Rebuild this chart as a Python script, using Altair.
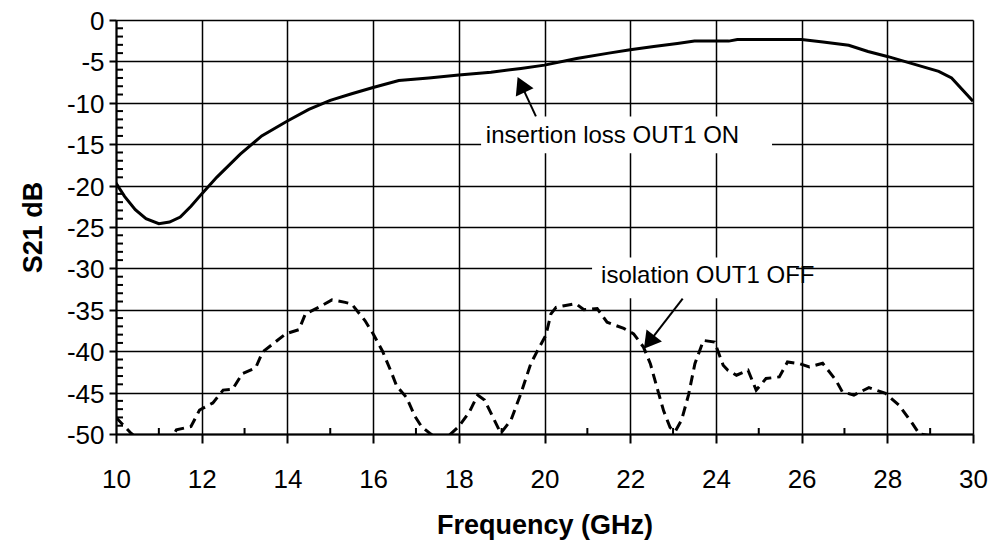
import altair as alt
import pandas as pd

FONT = "Liberation Sans"

# insertion loss OUT1 ON (solid)
freq_il = [10.0, 10.2, 10.45, 10.7, 11.0, 11.25, 11.5, 11.75, 12.0, 12.35, 12.9, 13.4, 14.0,
           14.5, 15.0, 15.5, 16.0, 16.6, 17.3, 18.0, 18.75, 19.45, 20.0, 20.75, 21.5, 22.0,
           22.55, 23.1, 23.5, 24.0, 24.3, 24.5, 25.0, 25.5, 26.0, 26.5, 27.1, 27.55, 28.0,
           28.5, 29.2, 29.5, 30.0]
s21_il = [-19.7, -21.3, -22.9, -24.0, -24.6, -24.4, -23.8, -22.5, -21.0, -19.0, -16.2, -14.0, -12.2,
          -10.8, -9.7, -8.9, -8.15, -7.3, -7.0, -6.65, -6.3, -5.85, -5.45, -4.65, -4.0, -3.6,
          -3.2, -2.85, -2.55, -2.55, -2.55, -2.35, -2.35, -2.35, -2.35, -2.65, -3.05, -3.8, -4.4,
          -5.15, -6.2, -7.0, -9.8]

# isolation OUT1 OFF (dashed)
freq_iso = [10.0, 10.35, 10.6, 11.0, 11.3, 11.41, 11.75, 11.95, 12.26, 12.5, 12.72, 12.95, 13.26,
            13.42, 13.96, 14.27, 14.42, 14.73, 15.04, 15.35, 15.5, 15.81, 16.0, 16.22, 16.43,
            16.55, 16.78, 16.98, 17.13, 17.32, 17.6, 18.0, 18.25, 18.44, 18.6, 18.79, 18.98,
            19.22, 19.45, 19.68, 19.84, 20.03, 20.15, 20.27, 20.46, 20.73, 20.92, 21.23, 21.46,
            21.85, 22.08, 22.31, 22.47, 22.62, 22.78, 22.93, 23.05, 23.2, 23.36, 23.51, 23.71,
            23.97, 24.17, 24.28, 24.48, 24.75, 24.94, 25.17, 25.48, 25.67, 25.95, 26.18, 26.49,
            26.8, 26.95, 27.22, 27.57, 27.96, 28.27, 28.58, 28.75, 29.0, 29.5, 30.0]
s21_iso = [-48.0, -49.9, -51.0, -52.0, -50.5, -49.5, -49.1, -47.1, -46.25, -44.7, -44.6, -42.7, -42.0,
           -40.1, -37.9, -37.4, -35.5, -34.7, -33.8, -34.1, -34.3, -36.3, -37.9, -40.0, -42.6,
           -44.2, -45.6, -47.9, -49.1, -49.9, -51.0, -49.1, -47.3, -45.3, -45.9, -47.9, -49.9,
           -48.3, -45.1, -41.5, -39.9, -38.1, -35.5, -34.7, -34.5, -34.25, -35.0, -34.85, -36.5,
           -37.25, -37.9, -39.5, -41.5, -44.3, -47.2, -49.2, -49.7, -48.3, -45.3, -41.5, -38.7,
           -38.9, -41.7, -42.3, -42.9, -42.3, -44.7, -43.3, -43.1, -41.3, -41.5, -41.9, -41.45,
           -43.5, -44.9, -45.3, -44.4, -45.1, -46.5, -48.7, -50.0, -50.2, -52.0, -53.0]

x_ticks = list(range(10, 31, 2))
y_ticks = list(range(-50, 1, 5))
x_minor = list(range(11, 30, 2))
y_minor = [v for v in range(-49, 0) if v % 5 != 0]

# annotations
labels = ["insertion loss OUT1 ON", "isolation OUT1 OFF"]
label_f = [18.63, 21.32]
label_db = [-14.85, -31.8]
box_f1 = [18.52, 21.11]
box_f2 = [25.31, 25.87]
box_db1 = [-11.64, -28.69]
box_db2 = [-16.09, -33.61]
arrow_f_start = [19.80, 23.225]
arrow_db_start = [-11.64, -33.65]
arrow_f_head = [19.455, 22.44]
arrow_db_head = [-7.81, -38.91]
arrow_angle = [335.2, 217.7]

il = pd.DataFrame({"f": freq_il, "s": s21_il})
iso = pd.DataFrame({"f": freq_iso, "s": s21_iso})
ymin_df = pd.DataFrame({"v": y_minor, "x0": [10] * len(y_minor)})
xmin_df = pd.DataFrame({"v": x_minor, "y0": [-50] * len(x_minor)})
ann = pd.DataFrame({
    "label": labels, "lf": label_f, "ldb": label_db,
    "bf1": box_f1, "bf2": box_f2, "bdb1": box_db1, "bdb2": box_db2,
    "af1": arrow_f_start, "adb1": arrow_db_start, "af2": arrow_f_head, "adb2": arrow_db_head,
    "ang": arrow_angle,
})

xs = alt.Scale(domain=[10, 30], nice=False, zero=False)
ys = alt.Scale(domain=[-50, 0], nice=False, zero=False)

x_axis = alt.Axis(
    orient="bottom", values=x_ticks, title="Frequency (GHz)", grid=True,
    gridColor="black", gridWidth=1.5, gridOpacity=1,
    domainColor="black", domainWidth=2, tickColor="black", tickWidth=2, tickSize=9,
    labelFont=FONT, labelFontSize=26, labelColor="black", labelPadding=23,
    labelExpr="'' + datum.value",
    titleFont=FONT, titleFontSize=27, titleFontWeight="bold", titleColor="black",
    titlePadding=20, labelFlush=False, labelOverlap=False,
)
y_axis = alt.Axis(
    orient="left", values=y_ticks, title="S21 dB", grid=True,
    gridColor="black", gridWidth=1.5, gridOpacity=1,
    domainColor="black", domainWidth=2, tickColor="black", tickWidth=2, tickSize=7,
    labelFont=FONT, labelFontSize=26, labelColor="black", labelPadding=5,
    labelOffset=1.5,
    labelExpr="'' + datum.value",
    titleFont=FONT, titleFontSize=27, titleFontWeight="bold", titleColor="black",
    titlePadding=18, titleX=-69, labelFlush=False, labelOverlap=False,
)

solid = alt.Chart(il).mark_line(color="black", strokeWidth=3, clip=True).encode(
    x=alt.X("f:Q", scale=xs, axis=x_axis),
    y=alt.Y("s:Q", scale=ys, axis=y_axis),
)

dashed = alt.Chart(iso).mark_line(color="black", strokeWidth=3, strokeDash=[10, 6], clip=True).encode(
    x=alt.X("f:Q", scale=xs),
    y=alt.Y("s:Q", scale=ys),
)

# minor ticks pointing into the plot
y_minor_ticks = alt.Chart(ymin_df).mark_rule(color="black", strokeWidth=2).encode(
    y=alt.Y("v:Q", scale=ys),
    x=alt.X("x0:Q", scale=xs),
    x2=alt.value(7),
)

x_minor_ticks = alt.Chart(xmin_df).mark_rule(color="black", strokeWidth=2).encode(
    x=alt.X("v:Q", scale=xs),
    y=alt.Y("y0:Q", scale=ys),
    y2=alt.value(414 - 6),
)

boxes = alt.Chart(ann).mark_rect(color="white", opacity=1).encode(
    x=alt.X("bf1:Q", scale=xs), x2="bf2:Q",
    y=alt.Y("bdb1:Q", scale=ys), y2="bdb2:Q",
)

texts = alt.Chart(ann).mark_text(
    align="left", baseline="alphabetic", font=FONT, fontSize=24, color="black"
).encode(
    x=alt.X("lf:Q", scale=xs),
    y=alt.Y("ldb:Q", scale=ys),
    text="label:N",
)

shafts = alt.Chart(ann).mark_rule(color="black", strokeWidth=2).encode(
    x=alt.X("af1:Q", scale=xs), x2="af2:Q",
    y=alt.Y("adb1:Q", scale=ys), y2="adb2:Q",
)

heads = alt.Chart(ann).mark_point(
    shape="triangle-up", filled=True, color="black", opacity=1, size=380
).encode(
    x=alt.X("af2:Q", scale=xs),
    y=alt.Y("adb2:Q", scale=ys),
    angle=alt.Angle("ang:Q", scale=None),
)

chart = alt.layer(
    solid, y_minor_ticks, x_minor_ticks, boxes, dashed, texts, shafts, heads
).properties(
    width=857, height=414,
    autosize=alt.AutoSizeParams(type="none"),
    padding={"left": 108, "top": 12, "right": 15, "bottom": 108},
).configure_view(stroke=None).configure(background="white")

chart.save("out.html", embed_options={"renderer": "svg", "actions": False})
